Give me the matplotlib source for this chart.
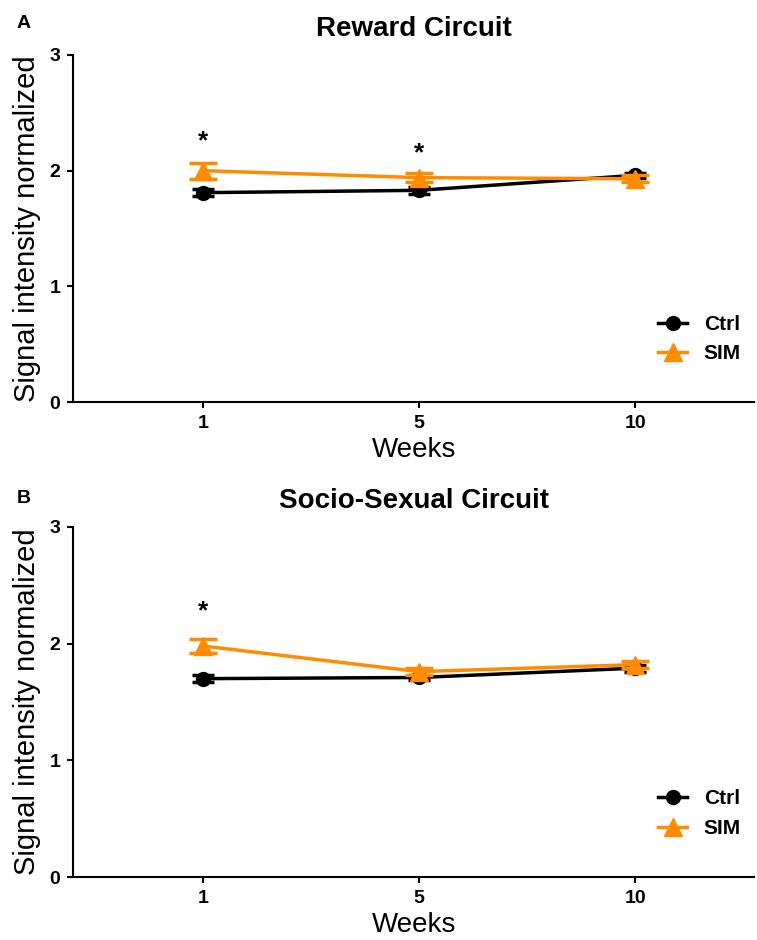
import matplotlib.pyplot as plt
from matplotlib.lines import Line2D
import numpy as np

plt.rcParams['font.family'] = ['Liberation Sans', 'DejaVu Sans']

# dados
semanas = ['1', '5', '10']

reward_ctrl = [1.81, 1.83, 1.96]
reward_ctrl_err = [0.03, 0.03, 0.02]
reward_sim = [2.00, 1.94, 1.93]
reward_sim_err = [0.07, 0.04, 0.03]
reward_stars = [2.25, 2.15, None]

socio_ctrl = [1.70, 1.71, 1.79]
socio_ctrl_err = [0.03, 0.02, 0.03]
socio_sim = [1.98, 1.76, 1.82]
socio_sim_err = [0.06, 0.03, 0.03]
socio_stars = [2.28, None, None]

laranja = '#ff8c00'


def plota_painel(ax, ctrl, ctrl_err, sim, sim_err, stars, titulo):
    x = np.arange(len(semanas))
    ax.errorbar(x, ctrl, yerr=ctrl_err, color='black', marker='o', markersize=10,
                lw=2.5, capsize=8, capthick=2.5, elinewidth=2.5, zorder=3)
    ax.errorbar(x, sim, yerr=sim_err, color=laranja, marker='^', markersize=13,
                lw=2.5, capsize=10, capthick=2.5, elinewidth=2.5, zorder=4)
    for xi, s in zip(x, stars):
        if s is not None:
            ax.text(xi, s, '*', ha='center', va='center', fontsize=19, fontweight='bold')
    ax.set_xlim(-0.6, 2.55)
    ax.set_ylim(0, 3)
    ax.set_xticks(x)
    ax.set_xticklabels(semanas)
    ax.set_yticks([0, 1, 2, 3])
    ax.spines['top'].set_visible(False)
    ax.spines['right'].set_visible(False)
    ax.spines['left'].set_linewidth(1.5)
    ax.spines['bottom'].set_linewidth(1.5)
    ax.tick_params(width=1.5, length=4, labelsize=14, pad=5)
    for lab in ax.get_xticklabels() + ax.get_yticklabels():
        lab.set_fontweight('bold')
    ax.set_xlabel('Weeks', fontsize=20, labelpad=4)
    ax.set_ylabel('Signal intensity normalized', fontsize=21, labelpad=6)
    ax.set_title(titulo, fontsize=20, fontweight='bold', pad=14)
    handles = [Line2D([], [], color='black', marker='o', markersize=10, lw=2.5),
               Line2D([], [], color=laranja, marker='^', markersize=13, lw=2.5)]
    ax.legend(handles, ['Ctrl', 'SIM'], loc='center right', bbox_to_anchor=(1.008, 0.181),
              frameon=False, prop={'weight': 'bold', 'size': 15}, handlelength=1.4,
              labelspacing=0.5, handletextpad=0.8)


fig = plt.figure(figsize=(7.57, 9.4), dpi=100)
ax1 = fig.add_axes([0.0964, 0.5723, 0.9, 0.3692])
ax2 = fig.add_axes([0.0964, 0.067, 0.9, 0.3724])

plota_painel(ax1, reward_ctrl, reward_ctrl_err, reward_sim, reward_sim_err, reward_stars,
             'Reward Circuit')
plota_painel(ax2, socio_ctrl, socio_ctrl_err, socio_sim, socio_sim_err, socio_stars,
             'Socio-Sexual Circuit')

fig.text(24 / 757, 1 - 23 / 940, 'A', fontsize=14, fontweight='bold', ha='center', va='center')
fig.text(24 / 757, 1 - 499 / 940, 'B', fontsize=14, fontweight='bold', ha='center', va='center')

plt.savefig('out.png', dpi=100)
